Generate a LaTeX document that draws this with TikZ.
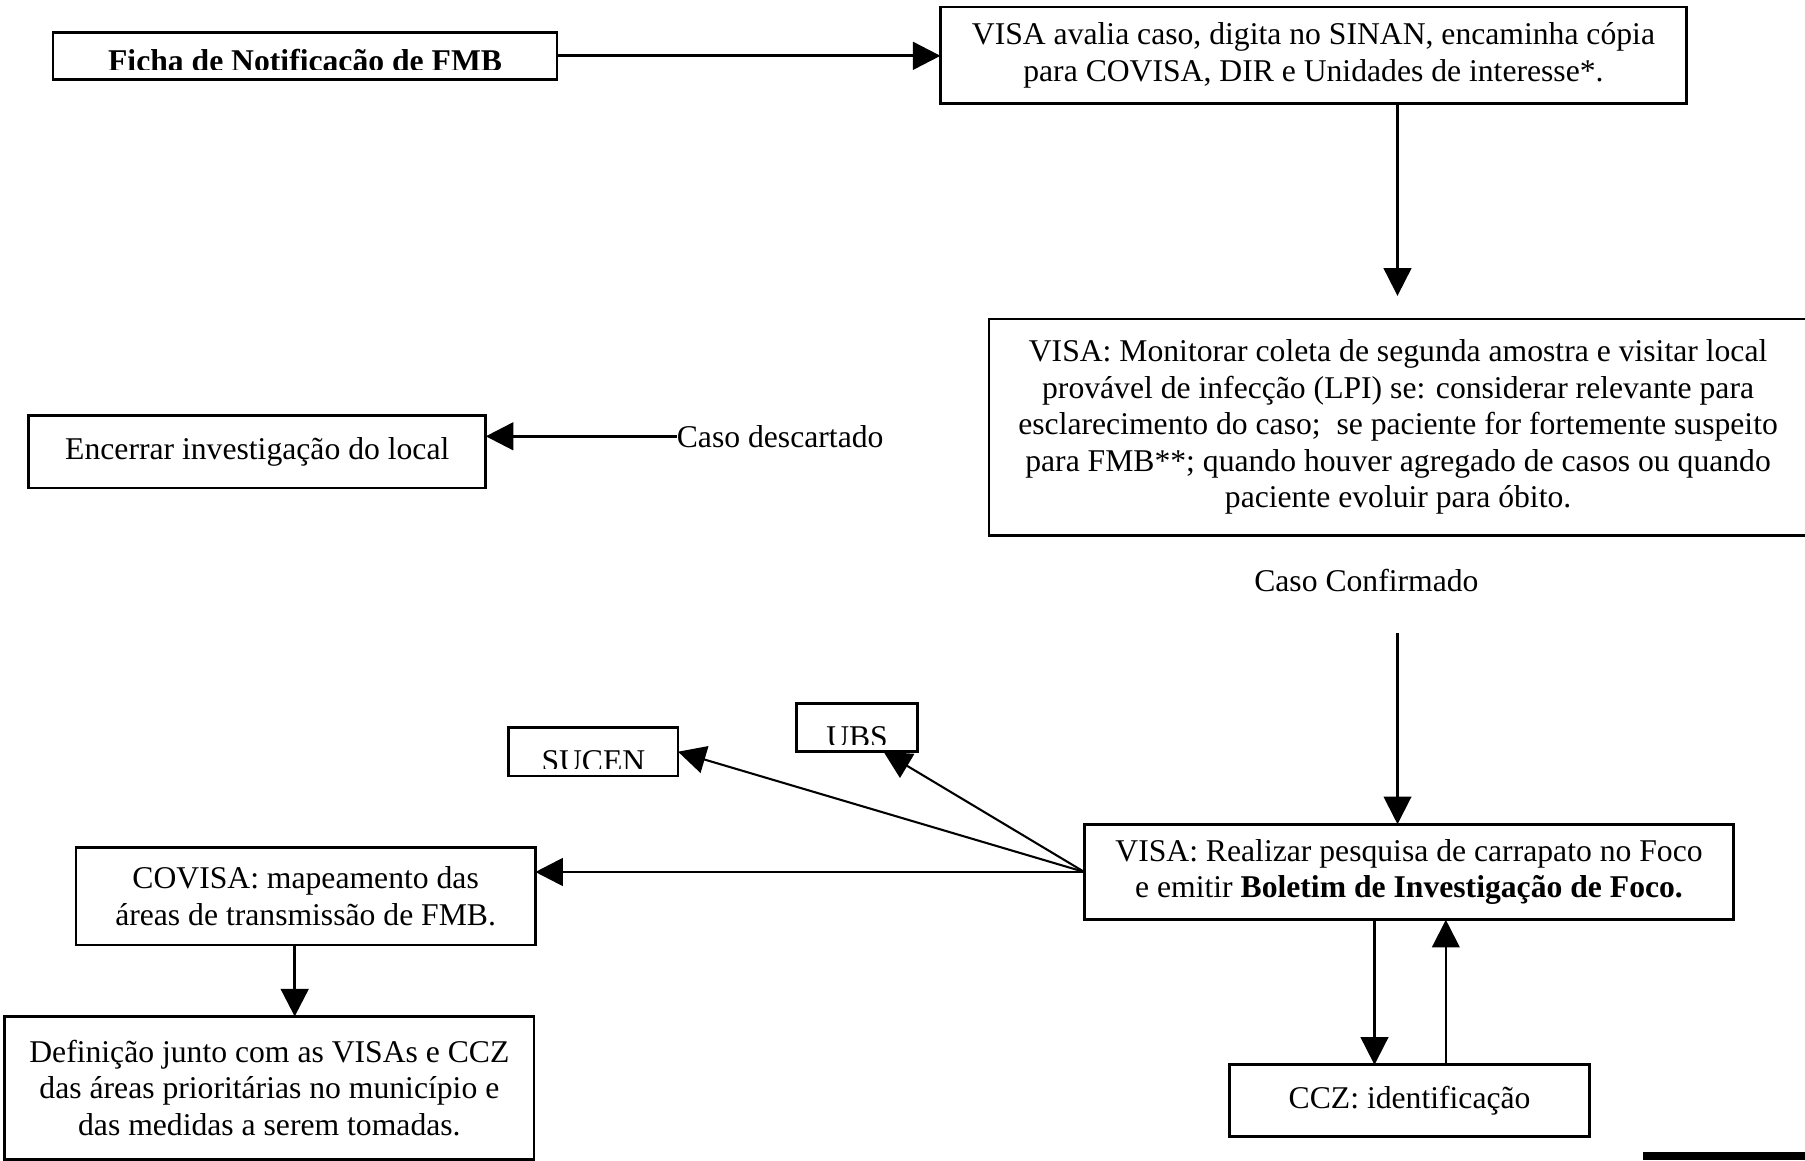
\documentclass[tikz,border=0pt]{standalone}
\usepackage{fontspec}
\setmainfont{Liberation Serif}
\usetikzlibrary{arrows.meta}
\tikzset{
  box/.style={draw, line width=2.3pt, rectangle, inner sep=0pt, outer sep=0pt, align=center},
  conn/.style={line width=1.8pt, -{Triangle[length=24pt,width=24pt]}},
  thickconn/.style={line width=2.6pt, -{Triangle[length=24pt,width=24pt]}},
  lbl/.style={inner sep=0pt, outer sep=0pt}
}
\begin{document}
\begin{tikzpicture}[x=1pt,y=-1pt,font=\fontsize{27.5}{31.7}\selectfont]
\useasboundingbox (0,0) rectangle (1568,1008);
% boxes
\node[box, minimum width=438pt, minimum height=41pt] (ficha) at (265,48.5) {};
\begin{scope}
  \clip (46,28) rectangle (484,60);
  \node[lbl, anchor=base] (fichatxt) at (265,62) {\bfseries Ficha de Notificação de FMB};
\end{scope}
\node[box, minimum width=648pt, minimum height=84pt] (visa1) at (1141,48)
  {VISA avalia caso, digita no SINAN, encaminha cópia\\para COVISA, DIR e Unidades de interesse*.};
\node[box, minimum width=711pt, minimum height=188pt] (visa2) at (1214.5,371)
  {VISA: Monitorar coleta de segunda amostra e visitar local\\provável de infecção (LPI) se: considerar relevante para\\esclarecimento do caso;\ \ se paciente for fortemente suspeito\\para FMB**; quando houver agregado de casos ou quando\\paciente evoluir para óbito.};
\node[box, minimum width=397pt, minimum height=63pt] (enc) at (223.5,392.5)
  {Encerrar investigação do local};
\node[lbl, anchor=west] (desc) at (588,379) {Caso descartado};
\node[lbl] (conf) at (1187,504) {Caso Confirmado};
\node[box, minimum width=564pt, minimum height=83pt] (visa3) at (1224,757.5)
  {VISA: Realizar pesquisa de carrapato no Foco\\e emitir \textbf{Boletim de Investigação de Foco.}};
\node[box, minimum width=147pt, minimum height=42pt] (sucen) at (515.5,653) {};
\begin{scope}
  \clip (442,632) rectangle (589,668);
  \node[lbl, anchor=base] (sucentxt) at (515.5,670) {SUCEN};
\end{scope}
\node[box, minimum width=105pt, minimum height=42pt] (ubs) at (744.5,632) {};
\begin{scope}
  \clip (692,611) rectangle (797,647);
  \node[lbl, anchor=base] (ubstxt) at (744.5,649) {UBS};
\end{scope}
\node[box, minimum width=399pt, minimum height=85pt] (covisa) at (265.5,778.5)
  {COVISA: mapeamento das\\áreas de transmissão de FMB.};
\node[box, minimum width=460pt, minimum height=124pt] (def) at (234,945)
  {Definição junto com as VISAs e CCZ\\das áreas prioritárias no município e\\das medidas a serem tomadas.};
\node[box, minimum width=313pt, minimum height=62pt] (ccz) at (1224.5,956)
  {CCZ: identificação};
% helper coordinates
\coordinate (xa) at (1214,0);
\coordinate (tipa) at (1214,257);
\coordinate (starta) at (1214,550);
\coordinate (xb) at (256,0);
\coordinate (xc) at (1194,0);
\coordinate (xd) at (1256,0);
% connectors
\draw[thickconn] (ficha.east) -- (ficha.east -| visa1.west);
\draw[conn] (visa1.south -| xa) -- (tipa);
\draw[thickconn] (desc.west) -- (desc.west -| enc.east);
\draw[conn] (starta) -- (starta |- visa3.north);
\draw[conn] (visa3.west) -- (sucen.east);
\draw[conn] (visa3.west) -- ([xshift=23pt]ubs.south);
\draw[thickconn] (visa3.west) -- (visa3.west -| covisa.east);
\draw[thickconn] (covisa.south -| xb) -- (def.north -| xb);
\draw[conn] (visa3.south -| xc) -- (ccz.north -| xc);
\draw[conn] (ccz.north -| xd) -- (visa3.south -| xd);
% bar at bottom right
\fill (1427,1000.5) rectangle (1568,1008);
\end{tikzpicture}
\end{document}
